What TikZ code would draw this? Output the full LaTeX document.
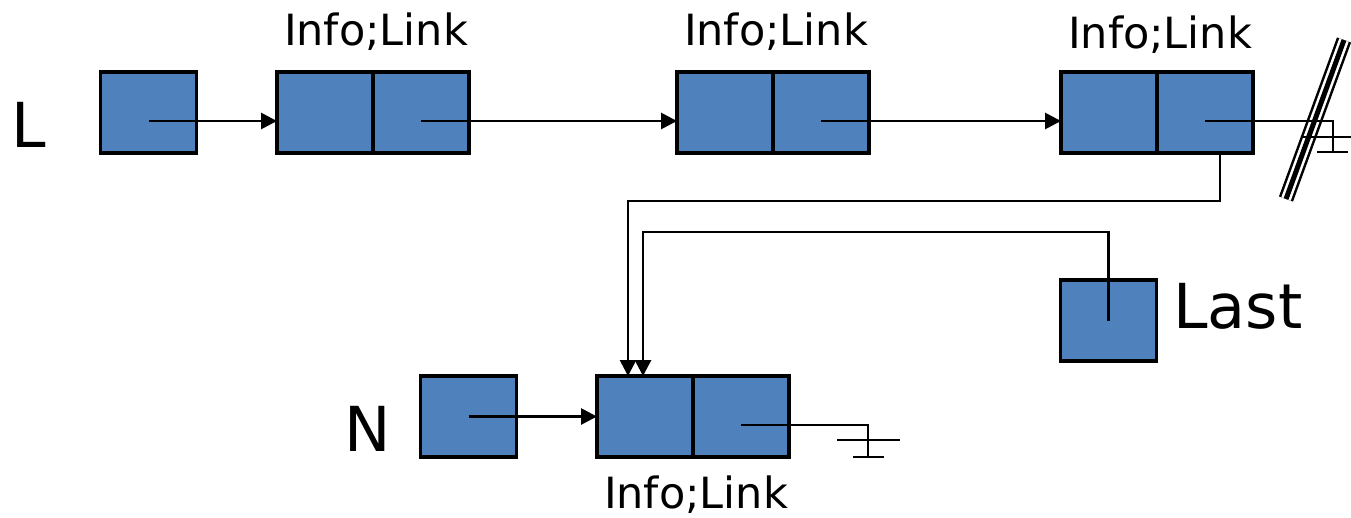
\documentclass[tikz,border=0pt]{standalone}
\usepackage{fontspec}
\setmainfont{DejaVu Sans}
\usetikzlibrary{arrows.meta,calc}
\definecolor{cellblue}{HTML}{4F81BD}
\begin{document}
\begin{tikzpicture}[x=1pt,y=-1pt,
  cell/.style={draw=black,fill=cellblue,line width=3.2pt,minimum width=96pt,minimum height=81pt,inner sep=0pt,outer sep=0pt},
  link/.style={line width=2.8pt},
  arr/.style={link,-{Triangle[length=16pt,width=16pt]}},
  lbl/.style={font=\fontsize{43}{43}\selectfont,anchor=base,inner sep=0pt},
  big/.style={font=\fontsize{62}{62}\selectfont,anchor=base,inner sep=0pt}]
\useasboundingbox (0,0) rectangle (1351,517);

% cells
\node[cell] (p) at (148.5,112.5) {};
\node[cell] (a1) at (325,112.5) {};
\node[cell] (b1) at (421,112.5) {};
\node[cell] (a2) at (725,112.5) {};
\node[cell] (b2) at (821,112.5) {};
\node[cell] (a3) at (1109,112.5) {};
\node[cell] (b3) at (1205,112.5) {};
\node[cell] (last) at (1108.5,320.5) {};
\node[cell] (nptr) at (468.5,416.5) {};
\node[cell] (na) at (645,416.5) {};
\node[cell] (nb) at (741,416.5) {};

% labels
\node[lbl] (t1) at (376,45) {Info;Link};
\node[lbl] (t2) at (776,45) {Info;Link};
\node[lbl] (t3) at (1160,48) {Info;Link};
\node[lbl] (t4) at (696,508) {Info;Link};
\node[big] (lL) at (28.5,147) {L};
\node[big] (lN) at (368,451) {N};
\node[big,anchor=base west] (lLast) at (1173,328) {Last};

% slash (null mark)
\coordinate (s1) at (1286,199);
\coordinate (s2) at (1344,40);
\draw[line width=15pt] (s1) -- (s2);
\draw[white,line width=10pt] (s1) -- (s2);
\draw[line width=5pt] (s1) -- (s2);

% top row connectors
\draw[arr] ($(p.center)+(0,8.5)$) -- ($(a1.west)+(0,8.5)$);
\draw[arr] ($(b1.center)+(0,8.5)$) -- ($(a2.west)+(0,8.5)$);
\draw[arr] ($(b2.center)+(0,8.5)$) -- ($(a3.west)+(0,8.5)$);

% ground of top list
\coordinate (g1) at (1333,152);
\draw[link] ($(b3.center)+(0,8.5)$) -| (g1);
\coordinate (g1a) at (1302,137);
\coordinate (g1b) at (1351,137);
\coordinate (g1c) at (1317,152);
\coordinate (g1d) at (1348,152);
\draw[link] (g1a) -- (g1b);
\draw[link] (g1c) -- (g1d);

% pointers into new node
\draw[arr] ($(b3.south)+(15,0)$) |- ($(na.north)+(-17,-175)$) -- ($(na.north)+(-17,0)$);
\draw[arr] (last.center) |- ($(na.north)+(-2,-144)$) -- ($(na.north)+(-2,0)$);

% N pointer
\draw[arr] (nptr.center) -- (na.west);

% ground of new node
\coordinate (g2) at (868,457);
\draw[link] ($(nb.center)+(0,8.5)$) -| (g2);
\coordinate (g2a) at (837,440);
\coordinate (g2b) at (900,440);
\coordinate (g2c) at (853,457);
\coordinate (g2d) at (884,457);
\draw[link] (g2a) -- (g2b);
\draw[link] (g2c) -- (g2d);
\end{tikzpicture}
\end{document}
